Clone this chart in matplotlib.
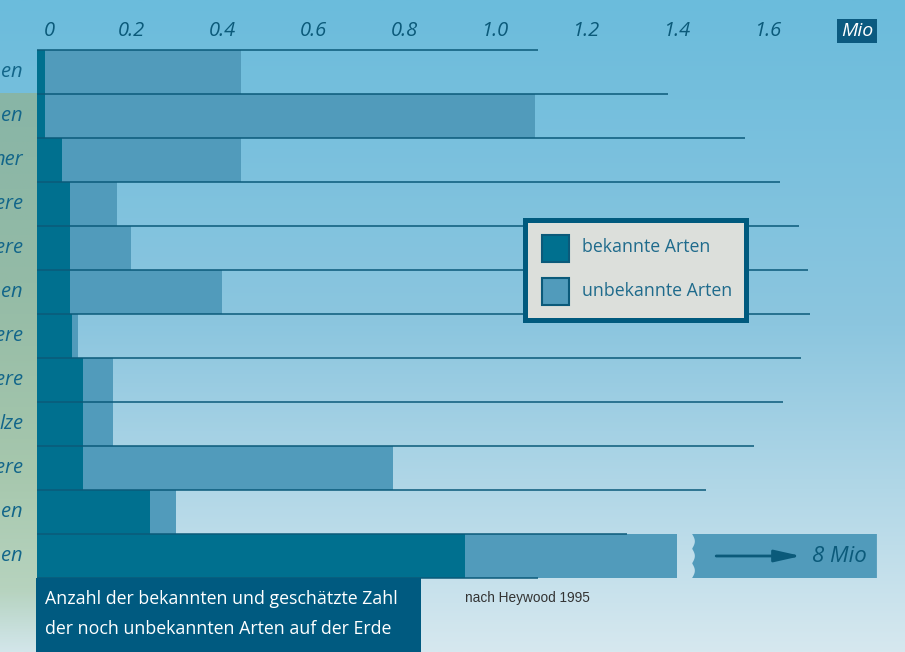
import numpy as np
import matplotlib.pyplot as plt
import matplotlib.transforms as mtransforms
from matplotlib.patches import Rectangle, Polygon
from matplotlib.colors import LinearSegmentedColormap, to_rgb

plt.rcParams['font.family'] = ['Open Sans', 'DejaVu Sans']

# Arten (Mio), nach Heywood 1995 -- links nur die sichtbaren Wortenden
arten = ['en', 'en', 'ner', 'ere', 'ere', 'en', 'ere', 'ere', 'lze', 'ere', 'en', 'en']
bekannt = [0.018, 0.018, 0.055, 0.073, 0.073, 0.073, 0.077, 0.101, 0.101, 0.101, 0.249, 0.943]
geschaetzt = [0.449, 1.097, 0.449, 0.176, 0.207, 0.407, 0.090, 0.167, 0.167, 0.784, 0.306, 8.0]
linien_ende = [1.104, 1.390, 1.559, 1.637, 1.678, 1.698, 1.703, 1.683, 1.643, 1.579,
               1.474, 1.300, 1.104]
ticks = [0, 0.2, 0.4, 0.6, 0.8, 1.0, 1.2, 1.4, 1.6]
tick_labels = ['0', '0.2', '0.4', '0.6', '0.8', '1.0', '1.2', '1.4', '1.6']
bruch = 1.41
rest_von, rest_bis = 1.443, 1.85

c_bek = '#00708f'
c_unb = '#519bbb'
c_dark = '#0b5a7a'
c_text = '#13668a'

W, H = 905, 652
fig = plt.figure(figsize=(W / 100, H / 100), dpi=100)

# hintergrund
bg = fig.add_axes([0, 0, 1, 1], zorder=0)
bg.axis('off')
sky = LinearSegmentedColormap.from_list('sky', ['#6bbcdc', '#8cc6df', '#d6e8ef'])
bg.imshow(np.linspace(0, 1, 256).reshape(-1, 1), cmap=sky, extent=[0, W, H, 0], aspect='auto')

# gruener streifen links (baum), unten ausblendend
n = 300
t = np.linspace(0, 1, n)
green = LinearSegmentedColormap.from_list('green', ['#88b5a6', '#94bba6', '#a6c7ad', '#c0dac8'])
img = green(t).reshape(n, 1, 4)
alpha = np.clip((660 - (93 + t * (660 - 93))) / 70, 0, 1)
img[:, 0, 3] = alpha
bg.imshow(img, extent=[0, 37, 660, 93], aspect='auto')
bg.set_xlim(0, W)
bg.set_ylim(H, 0)

# balken
ax = fig.add_axes([0, 0, 1, 1], zorder=1)
ax.patch.set_alpha(0)
x0, scale = 37, 454
ax.set_xlim(-x0 / scale, (W - x0) / scale)
ax.set_ylim((H - 72) / 44, -72 / 44)
ax.axis('off')

rows = np.arange(len(arten))
shown = np.minimum(geschaetzt, bruch)
ax.barh(rows, shown, height=1, color=c_unb, zorder=2)
ax.barh(rows, bekannt, height=1, color=c_bek, zorder=3)
ax.hlines(np.arange(len(arten) + 1) - 0.5, 0, linien_ende, color=c_dark, lw=1.1, zorder=4)

# achsenbruch bei Insekten
i = len(arten) - 1
yy = np.linspace(i - 0.5, i + 0.5, 60)
wave = rest_von + 0.006 * np.abs(np.sin((yy - (i - 0.5)) * np.pi * 3))
pts = list(zip(wave, yy)) + [(rest_bis, i + 0.5), (rest_bis, i - 0.5)]
ax.add_patch(Polygon(pts, closed=True, fc=c_unb, ec='none', zorder=3))
ax.annotate('', xy=(1.683, i), xytext=(1.496, i),
            arrowprops=dict(arrowstyle='-|>,head_length=1.6,head_width=0.36',
                            color=c_dark, lw=2, shrinkA=0, shrinkB=0), zorder=5)
ax.text(1.707, i, '8 Mio', ha='left', va='center', style='italic', fontsize=16,
        color=c_dark, zorder=5)

# tick labels oben
off = mtransforms.offset_copy(ax.transData, fig=fig, x=17.5, y=0, units='dots')
for tk, lab in zip(ticks, tick_labels):
    ax.text(tk, -0.93, lab, ha='right', va='center', style='italic', fontsize=14.5,
            color=c_dark, transform=off)

# kategorien
blend = mtransforms.blended_transform_factory(ax.transAxes, ax.transData)
for r, name in zip(rows, arten):
    ax.text(23 / W, r, name, ha='right', va='center', style='italic', fontsize=14.5,
            color=c_text, transform=blend)

# overlay: legende, kasten, quelle
ov = fig.add_axes([0, 0, 1, 1], zorder=2)
ov.patch.set_alpha(0)
ov.set_xlim(0, W)
ov.set_ylim(H, 0)
ov.axis('off')

ov.add_patch(Rectangle((837, 19), 40, 24, fc='#0b5a80', ec='none'))
ov.text(857, 31, 'Mio', ha='center', va='center', style='italic', fontsize=14, color='white')

ov.add_patch(Rectangle((524.5, 219.5), 221, 100, fc='#dcdfdb', ec='#005a7e', lw=3.6))
ov.add_patch(Rectangle((542, 235), 27, 27, fc=c_bek, ec=c_dark, lw=1.5))
ov.add_patch(Rectangle((542, 278), 27, 27, fc=c_unb, ec=c_dark, lw=1.5))
ov.text(582, 247, 'bekannte Arten', ha='left', va='center', fontsize=12.8, color='#1f6b8c')
ov.text(582, 291, 'unbekannte Arten', ha='left', va='center', fontsize=12.8, color='#1f6b8c')

ov.add_patch(Rectangle((36, 578), 385, 80, fc='#005a80', ec='none'))
ov.text(45, 599, 'Anzahl der bekannten und geschätzte Zahl', ha='left', va='center',
        fontsize=12.8, color='white')
ov.text(45, 629, 'der noch unbekannten Arten auf der Erde', ha='left', va='center',
        fontsize=12.8, color='white')
ov.text(465, 598, 'nach Heywood 1995', ha='left', va='center', fontsize=9.8,
        color='#333333', family=['Liberation Sans', 'DejaVu Sans'])

fig.savefig('out.png', dpi=100)
